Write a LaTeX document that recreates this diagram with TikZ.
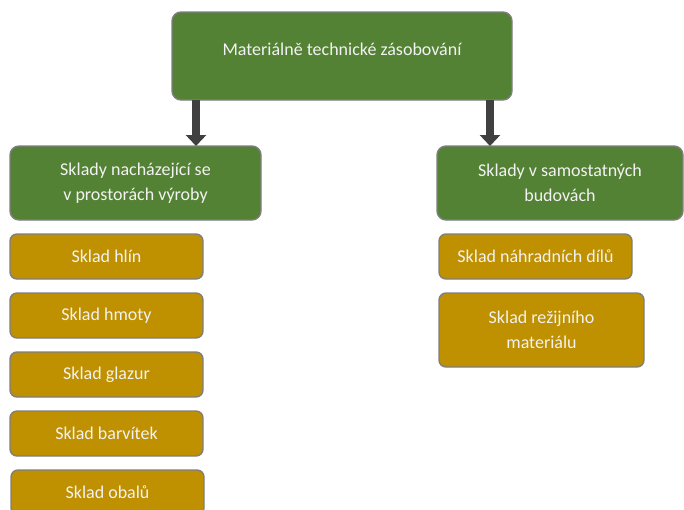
\documentclass[tikz,border=0pt]{standalone}
\usepackage{fontspec}
\setmainfont{Carlito}
\usetikzlibrary{positioning,arrows.meta}
\definecolor{boxgreen}{RGB}{84,130,53}
\definecolor{boxgold}{RGB}{191,144,0}
\definecolor{boxedge}{RGB}{127,127,127}
\definecolor{arrowgray}{RGB}{64,64,64}

\begin{document}
\begin{tikzpicture}[
    node distance=14pt,
    box/.style={rectangle, rounded corners=9pt, draw=boxedge, line width=1.4pt, align=center,
        text=white!95!black, font=\fontsize{18}{25}\selectfont, inner sep=0pt, outer sep=0pt},
    green box/.style={box, fill=boxgreen, minimum height=74pt},
    gold box/.style={box, fill=boxgold, rounded corners=7pt, minimum width=193pt, minimum height=45pt},
    arrow/.style={-{Triangle[length=11pt,width=20pt]}, line width=8pt, draw=arrowgray}
]
\useasboundingbox (0,0) rectangle (684pt,-509pt);

\node[green box, minimum width=340pt, minimum height=88pt, text depth=14pt] (mtz) at (342pt,-56pt) {Materiálně technické zásobování};
\node[green box, minimum width=251pt] (vyroba) at (135.5pt,-183pt) {Sklady nacházející se\\v prostorách výroby};
\node[green box, minimum width=246pt] (budovy) at (560pt,-183pt) {Sklady v samostatných\\budovách};

% sklady ve vyrobe
\node[gold box, below=of vyroba.south west, anchor=north west] (hlin) {Sklad hlín};
\node[gold box, below=of hlin] (hmota) {Sklad hmoty};
\node[gold box, below=of hmota] (glazura) {Sklad glazur};
\node[gold box, below=of glazura] (barvitka) {Sklad barvítek};
\node[gold box, below=of barvitka, xshift=1pt] (obaly) {Sklad obalů};

% samostatne budovy
\node[gold box, below=of budovy.south west, anchor=north west, xshift=2pt] (dily) {Sklad náhradních dílů};
\node[gold box, below=of dily.south west, anchor=north west, minimum width=205pt, minimum height=74pt] (rezie) {Sklad režijního\\materiálu};

\draw[arrow] ([xshift=24pt]mtz.south west) -- ([xshift=24pt]mtz.south west |- vyroba.north);
\draw[arrow] ([xshift=-22pt]mtz.south east) -- ([xshift=-22pt]mtz.south east |- budovy.north);
\end{tikzpicture}
\end{document}
